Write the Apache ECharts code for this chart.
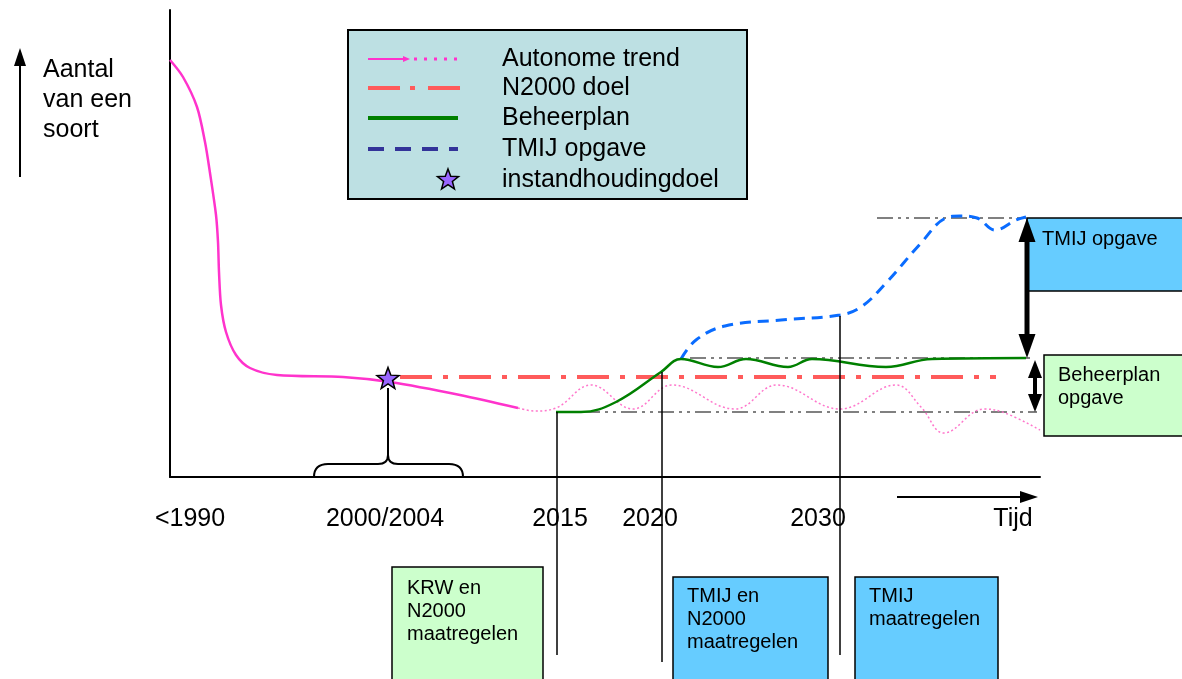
<!DOCTYPE html>
<html>
<head>
<meta charset="utf-8">
<title>Aantal van een soort – N2000 en TMIJ opgave</title>
<script src="https://cdn.jsdelivr.net/npm/echarts@6/dist/echarts.min.js"></script>
<style>
  html, body { margin: 0; padding: 0; background: #fff; }
  #chart { width: 1182px; height: 679px; }
</style>
</head>
<body>
<div id="chart"></div>
<script>
// schematische assen: x = tijd (0..870), y = aantal (0..467)
const FONT = '"Liberation Sans", Arial, Helvetica, sans-serif';

// Autonome trend, gemeten (doorgetrokken)
const trendX = [0, 13, 27, 35, 40, 46, 48, 49, 51, 56, 66, 80, 107, 173, 220, 290, 348];
const trendY = [417, 400, 370, 335, 304, 262, 235, 205, 172, 145, 122, 109, 102, 100, 95, 82, 69];
// Autonome trend, verwacht (gestippeld)
const trendProgX = [348, 365, 386, 421, 463, 502, 565, 607, 670, 726, 751, 774, 814, 835, 870];
const trendProgY = [69, 66, 69, 92, 68, 92, 68, 92, 68, 92, 70, 44, 68, 64, 47];
// Beheerplan
const beheerX = [386, 411, 446, 491, 511, 548, 576, 618, 642, 716, 762, 856];
const beheerY = [65, 65, 75, 105, 118, 110, 118, 110, 118, 110, 118, 119];
// TMIJ opgave
const tmijX = [511, 526, 555, 611, 670, 691, 716, 751, 776, 790, 807, 825, 846, 856];
const tmijY = [118, 137, 151, 157, 162, 170, 194, 234, 259, 261, 259, 247, 257, 260];
// N2000 doel
const n2000Y = 100;
const n2000From = 230;
const n2000To = 826;
// instandhoudingsdoel (2000/2004)
const goalX = 218;
const goalY = 99;

// hulplijnen (niveaus)
const levelY = [259, 119, 65];
const levelFrom = [707, 520, 414];
const levelTo = [856, 860, 867];

// start van maatregelen (verticale lijnen)
const measureX = [387, 492, 670];
const measureTop = [65, 105, 161];
const measureBottom = [-178, -185, -178];

// opgave-pijlen
const opgaveX = [857, 865];
const opgaveTop = [259, 117];
const opgaveBottom = [119, 65];

// accolade 2000/2004
const braceFrom = 144;
const braceTo = 293;
const braceTop = 13;
const braceTip = 22;
const braceReach = 89;

// tijd-as
const timeLabels = ['<1990', '2000/2004', '2015', '2020', '2030'];
const timeLabelPos = [20, 215, 390, 480, 648];

const legendLabels = ['Autonome trend', 'N2000 doel', 'Beheerplan', 'TMIJ opgave', 'instandhoudingdoel'];

const zip = (xs, ys) => xs.map((x, i) => [x, ys[i]]);

function starPoints(cx, cy, R, r) {
  const pts = [];
  for (let i = 0; i < 10; i++) {
    const rad = i % 2 ? r : R;
    const a = -Math.PI / 2 + i * Math.PI / 5;
    pts.push([cx + rad * Math.cos(a), cy + rad * Math.sin(a)]);
  }
  return pts;
}
const STAR = 'path://' + starPoints(0, 0, 10, 4.2)
  .map((p, i) => (i ? 'L' : 'M') + p[0].toFixed(2) + ' ' + p[1].toFixed(2)).join(' ') + 'Z';

function arrowRenderer(headW, headL, lineW) {
  return function (params, api) {
    const a = api.coord([api.value(0), api.value(1)]);
    const b = api.coord([api.value(0), api.value(2)]);
    const dx = b[0] - a[0], dy = b[1] - a[1];
    const len = Math.hypot(dx, dy);
    const ux = dx / len, uy = dy / len, nx = -uy, ny = ux;
    const head = (tip, s) => ({
      type: 'polygon',
      shape: { points: [
        tip,
        [tip[0] - s * ux * headL + nx * headW / 2, tip[1] - s * uy * headL + ny * headW / 2],
        [tip[0] - s * ux * headL - nx * headW / 2, tip[1] - s * uy * headL - ny * headW / 2]
      ] },
      style: { fill: '#000' }
    });
    const k = headL * 0.8;
    return {
      type: 'group',
      children: [
        { type: 'line',
          shape: { x1: a[0] + ux * k, y1: a[1] + uy * k, x2: b[0] - ux * k, y2: b[1] - uy * k },
          style: { stroke: '#000', lineWidth: lineW } },
        head(a, -1),
        head(b, 1)
      ]
    };
  };
}

const legendRowY = [59, 88, 118, 149, 180];
const legendGraphic = [
  { type: 'rect', shape: { x: 348, y: 30, width: 399, height: 169 },
    style: { fill: '#bde0e3', stroke: '#000', lineWidth: 2 } },
  { type: 'line', shape: { x1: 368, y1: 59, x2: 404, y2: 59 }, style: { stroke: '#ff33cc', lineWidth: 2 } },
  { type: 'polygon', shape: { points: [[403, 56], [410, 59], [403, 62]] }, style: { fill: '#ff33cc' } },
  { type: 'line', shape: { x1: 414, y1: 59, x2: 458, y2: 59 },
    style: { stroke: '#ff33cc', lineWidth: 3, lineDash: [3, 7] } },
  { type: 'line', shape: { x1: 368, y1: 88, x2: 460, y2: 88 },
    style: { stroke: '#ff5b5b', lineWidth: 4, lineDash: [32, 10, 5, 13] } },
  { type: 'line', shape: { x1: 368, y1: 118, x2: 458, y2: 118 }, style: { stroke: '#008000', lineWidth: 4 } },
  { type: 'line', shape: { x1: 368, y1: 149, x2: 458, y2: 149 },
    style: { stroke: '#333399', lineWidth: 4, lineDash: [16, 11] } },
  { type: 'polygon', shape: { points: starPoints(448, 180, 11, 4.6) },
    style: { fill: '#9966ff', stroke: '#000', lineWidth: 1.5 } }
].concat(legendLabels.map((t, i) => ({
  type: 'text', x: 502, y: legendRowY[i],
  style: { text: t, font: '25px ' + FONT, fill: '#000', verticalAlign: 'middle' }
})));

function box(x, y, w, h, fill, text, tx, ty) {
  return [
    { type: 'rect', shape: { x: x, y: y, width: w, height: h },
      style: { fill: fill, stroke: '#000', lineWidth: 1.5 } },
    { type: 'text', x: tx, y: ty,
      style: { text: text, font: '20px ' + FONT, lineHeight: 23, fill: '#000', verticalAlign: 'top' } }
  ];
}

const decoGraphic = [
  // y-as titel met pijl
  { type: 'line', shape: { x1: 20, y1: 177, x2: 20, y2: 62 }, style: { stroke: '#000', lineWidth: 2 } },
  { type: 'polygon', shape: { points: [[20, 48], [14, 66], [26, 66]] }, style: { fill: '#000' } },
  { type: 'text', x: 43, y: 55,
    style: { text: 'Aantal\nvan een\nsoort', font: '25px ' + FONT, lineHeight: 30, fill: '#000', verticalAlign: 'top' } },
  // tijd pijl
  { type: 'line', shape: { x1: 897, y1: 497, x2: 1024, y2: 497 }, style: { stroke: '#000', lineWidth: 2 } },
  { type: 'polygon', shape: { points: [[1038, 497], [1020, 491], [1020, 503]] }, style: { fill: '#000' } }
]
  .concat(box(1027, 218, 160, 73, '#66ccff', 'TMIJ opgave', 1042, 228))
  .concat(box(1044, 355, 145, 81, '#ccffcc', 'Beheerplan\nopgave', 1058, 364))
  .concat(box(392, 567, 151, 120, '#ccffcc', 'KRW en\nN2000\nmaatregelen', 407, 577))
  .concat(box(673, 577, 155, 110, '#66ccff', 'TMIJ en\nN2000\nmaatregelen', 687, 585))
  .concat(box(855, 577, 143, 110, '#66ccff', 'TMIJ\nmaatregelen', 869, 585));

const chart = echarts.init(document.getElementById('chart'), null, { renderer: 'canvas' });

const option = {
  animation: false,
  grid: { left: 170, right: 142, top: 10, bottom: 202 },
  xAxis: {
    type: 'value', min: 0, max: 870,
    axisLine: { show: true, onZero: false, lineStyle: { color: '#000', width: 2 } },
    axisTick: { show: false },
    splitLine: { show: false },
    axisLabel: {
      customValues: timeLabelPos,
      formatter: v => timeLabels[timeLabelPos.indexOf(v)] || '',
      margin: 30, color: '#000', fontSize: 25, fontFamily: FONT
    },
    name: 'Tijd', nameLocation: 'end', nameGap: -27,
    nameTextStyle: { color: '#000', fontSize: 25, fontFamily: FONT, align: 'center', verticalAlign: 'top', padding: [30, 0, 0, 0] }
  },
  yAxis: {
    type: 'value', min: 0, max: 467,
    axisLine: { show: true, lineStyle: { color: '#000', width: 2 } },
    axisTick: { show: false },
    axisLabel: { show: false },
    splitLine: { show: false }
  },
  graphic: decoGraphic.concat(legendGraphic),
  series: [
    {
      name: 'niveaus', type: 'lines', coordinateSystem: 'cartesian2d', silent: true, z: 1,
      data: levelY.map((y, i) => ({ coords: [[levelFrom[i], y], [levelTo[i], y]] })),
      lineStyle: { color: '#808080', width: 2, opacity: 1, type: [16, 5, 3, 5, 3, 5] }
    },
    {
      name: 'Autonome trend (verwacht)', type: 'line', data: zip(trendProgX, trendProgY),
      smooth: 0.4, symbol: 'none', silent: true, z: 2,
      lineStyle: { color: '#ff77cc', width: 1.5, type: [2, 2.5] }
    },
    {
      name: 'N2000 doel', type: 'line', data: [[n2000From, n2000Y], [n2000To, n2000Y]],
      symbol: 'none', silent: true, z: 3,
      lineStyle: { color: '#ff5b5b', width: 4, type: [32, 11, 5, 11] }
    },
    {
      name: 'TMIJ opgave', type: 'line', data: zip(tmijX, tmijY),
      smooth: 0.4, symbol: 'none', silent: true, z: 3,
      lineStyle: { color: '#0a6cff', width: 3, type: [11, 7] }
    },
    {
      name: 'Beheerplan', type: 'line', data: zip(beheerX, beheerY),
      smooth: 0.4, symbol: 'none', silent: true, z: 4,
      lineStyle: { color: '#008000', width: 2.5 }
    },
    {
      name: 'Autonome trend', type: 'line', data: zip(trendX, trendY),
      smooth: 0.3, symbol: 'none', silent: true, z: 4,
      lineStyle: { color: '#ff33cc', width: 2.5 }
    },
    {
      name: 'maatregelen', type: 'lines', coordinateSystem: 'cartesian2d', silent: true, clip: false, z: 5,
      data: measureX.map((x, i) => ({ coords: [[x, measureTop[i]], [x, measureBottom[i]]] })),
      lineStyle: { color: '#000', width: 1.5, opacity: 1 }
    },
    {
      name: 'accolade', type: 'custom', silent: true, clip: false, z: 5,
      encode: { x: [0, 1, 2], y: [3, 4, 5, 6] },
      data: [[braceFrom, goalX, braceTo, 0, braceTop, braceTip, braceReach]],
      renderItem(params, api) {
        const l = api.coord([api.value(0), api.value(3)]);
        const m = api.coord([api.value(1), api.value(5)]);
        const r = api.coord([api.value(2), api.value(3)]);
        const top = api.coord([api.value(1), api.value(4)])[1];
        const reach = api.coord([api.value(1), api.value(6)])[1];
        const c = 14, cm = 10;
        const d = 'M' + l[0] + ' ' + l[1] + ' Q' + l[0] + ' ' + top + ' ' + (l[0] + c) + ' ' + top +
          ' L' + (m[0] - cm) + ' ' + top + ' Q' + m[0] + ' ' + top + ' ' + m[0] + ' ' + m[1] +
          ' Q' + m[0] + ' ' + top + ' ' + (m[0] + cm) + ' ' + top +
          ' L' + (r[0] - c) + ' ' + top + ' Q' + r[0] + ' ' + top + ' ' + r[0] + ' ' + r[1] +
          ' M' + m[0] + ' ' + m[1] + ' L' + m[0] + ' ' + reach;
        return { type: 'path', shape: { pathData: d }, style: { fill: null, stroke: '#000', lineWidth: 2 } };
      }
    },
    {
      name: 'TMIJ opgave pijl', type: 'custom', silent: true, clip: false, z: 6,
      encode: { x: 0, y: [1, 2] },
      data: [[opgaveX[0], opgaveTop[0], opgaveBottom[0]]],
      renderItem: arrowRenderer(17, 24, 5)
    },
    {
      name: 'Beheerplan opgave pijl', type: 'custom', silent: true, clip: false, z: 6,
      encode: { x: 0, y: [1, 2] },
      data: [[opgaveX[1], opgaveTop[1], opgaveBottom[1]]],
      renderItem: arrowRenderer(14, 18, 4)
    },
    {
      name: 'instandhoudingdoel', type: 'scatter', data: [[goalX, goalY]],
      symbol: STAR, symbolSize: [22, 21], silent: true, z: 7,
      itemStyle: { color: '#9966ff', borderColor: '#000', borderWidth: 1.5, opacity: 1 }
    }
  ]
};

chart.setOption(option);
</script>
</body>
</html>
